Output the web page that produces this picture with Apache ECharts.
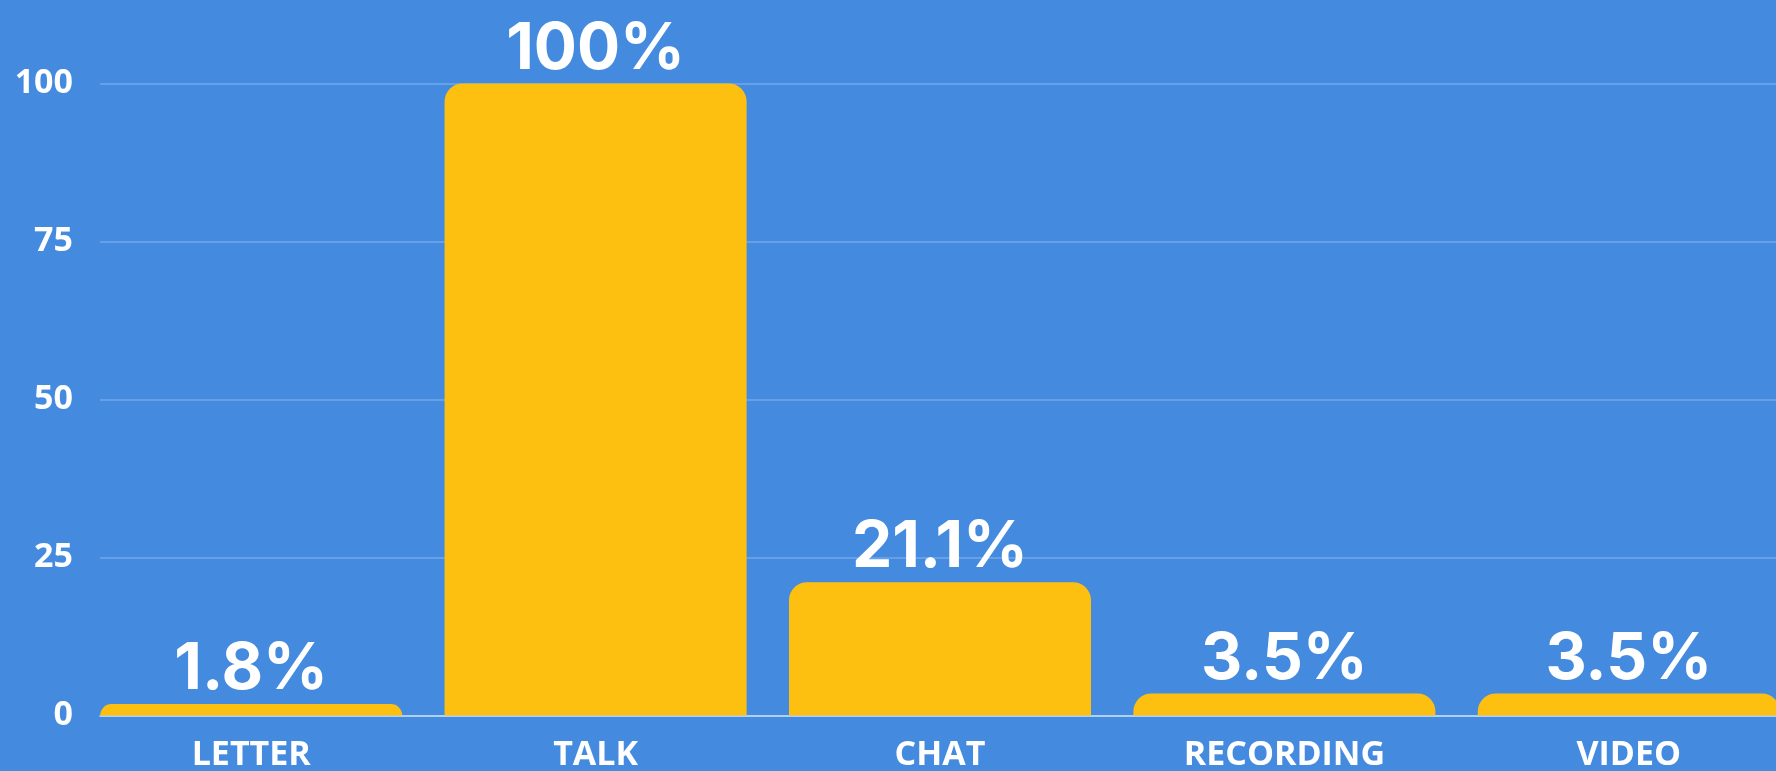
<!DOCTYPE html>
<html>
<head>
<meta charset="utf-8">
<script src="https://cdn.jsdelivr.net/npm/echarts@6/dist/echarts.min.js"></script>
<style>
  html, body { margin: 0; padding: 0; background: #448be0; }
  #chart { width: 1776px; height: 771px; }
</style>
</head>
<body>
<div id="chart"></div>
<script>
// chart data
const categories = ['LETTER', 'TALK', 'CHAT', 'RECORDING', 'VIDEO']
const shares = [1.8, 100, 21.1, 3.5, 3.5]
const yTicks = [0, 25, 50, 75, 100]

const chart = echarts.init(document.getElementById('chart'))

const gridTop = 83.5
const gridBottom = 55.5

chart.setOption({
  backgroundColor: '#448be0',
  animation: false,
  grid: [
    // axis grid: gridlines + y labels
    { left: 100, right: 0, top: gridTop, bottom: gridBottom, outerBoundsMode: 'none' },
    // bar grid: category bands sit a bit left of the axis and run past the edge
    { left: 79, width: 1722, top: gridTop, bottom: gridBottom, outerBoundsMode: 'none' },
  ],
  xAxis: [
    {
      gridIndex: 0,
      type: 'category',
      data: categories,
      axisLine: { lineStyle: { color: '#c9defa', width: 1.5 } },
      axisTick: { show: false },
      axisLabel: { show: false },
    },
    {
      gridIndex: 1,
      type: 'category',
      data: categories,
      axisLine: { show: false },
      axisTick: { show: false },
      axisLabel: {
        color: '#ffffff',
        fontFamily: 'Open Sans',
        fontWeight: 'bold',
        fontSize: 34,
        margin: 23,
      },
    },
  ],
  yAxis: [
    {
      gridIndex: 0,
      type: 'value',
      min: yTicks[0],
      max: yTicks[yTicks.length - 1],
      interval: 25,
      axisLine: { show: false },
      axisTick: { show: false },
      splitLine: { lineStyle: { color: 'rgba(255,255,255,0.25)', width: 1.5 } },
      axisLabel: {
        color: '#ffffff',
        fontFamily: 'Open Sans',
        fontWeight: 'bold',
        fontSize: 34,
        margin: 27,
      },
    },
    {
      gridIndex: 1,
      type: 'value',
      min: yTicks[0],
      max: yTicks[yTicks.length - 1],
      show: false,
    },
  ],
  series: [
    {
      type: 'bar',
      xAxisIndex: 1,
      yAxisIndex: 1,
      data: shares,
      barWidth: 302,
      itemStyle: { color: '#fdc010', borderRadius: [18, 18, 0, 0] },
      label: {
        show: true,
        position: 'top',
        distance: 2,
        color: '#ffffff',
        fontFamily: 'Inter',
        fontWeight: 'bold',
        fontSize: 64,
        formatter: (p) => p.value + '%',
      },
    },
  ],
})
</script>
</body>
</html>
